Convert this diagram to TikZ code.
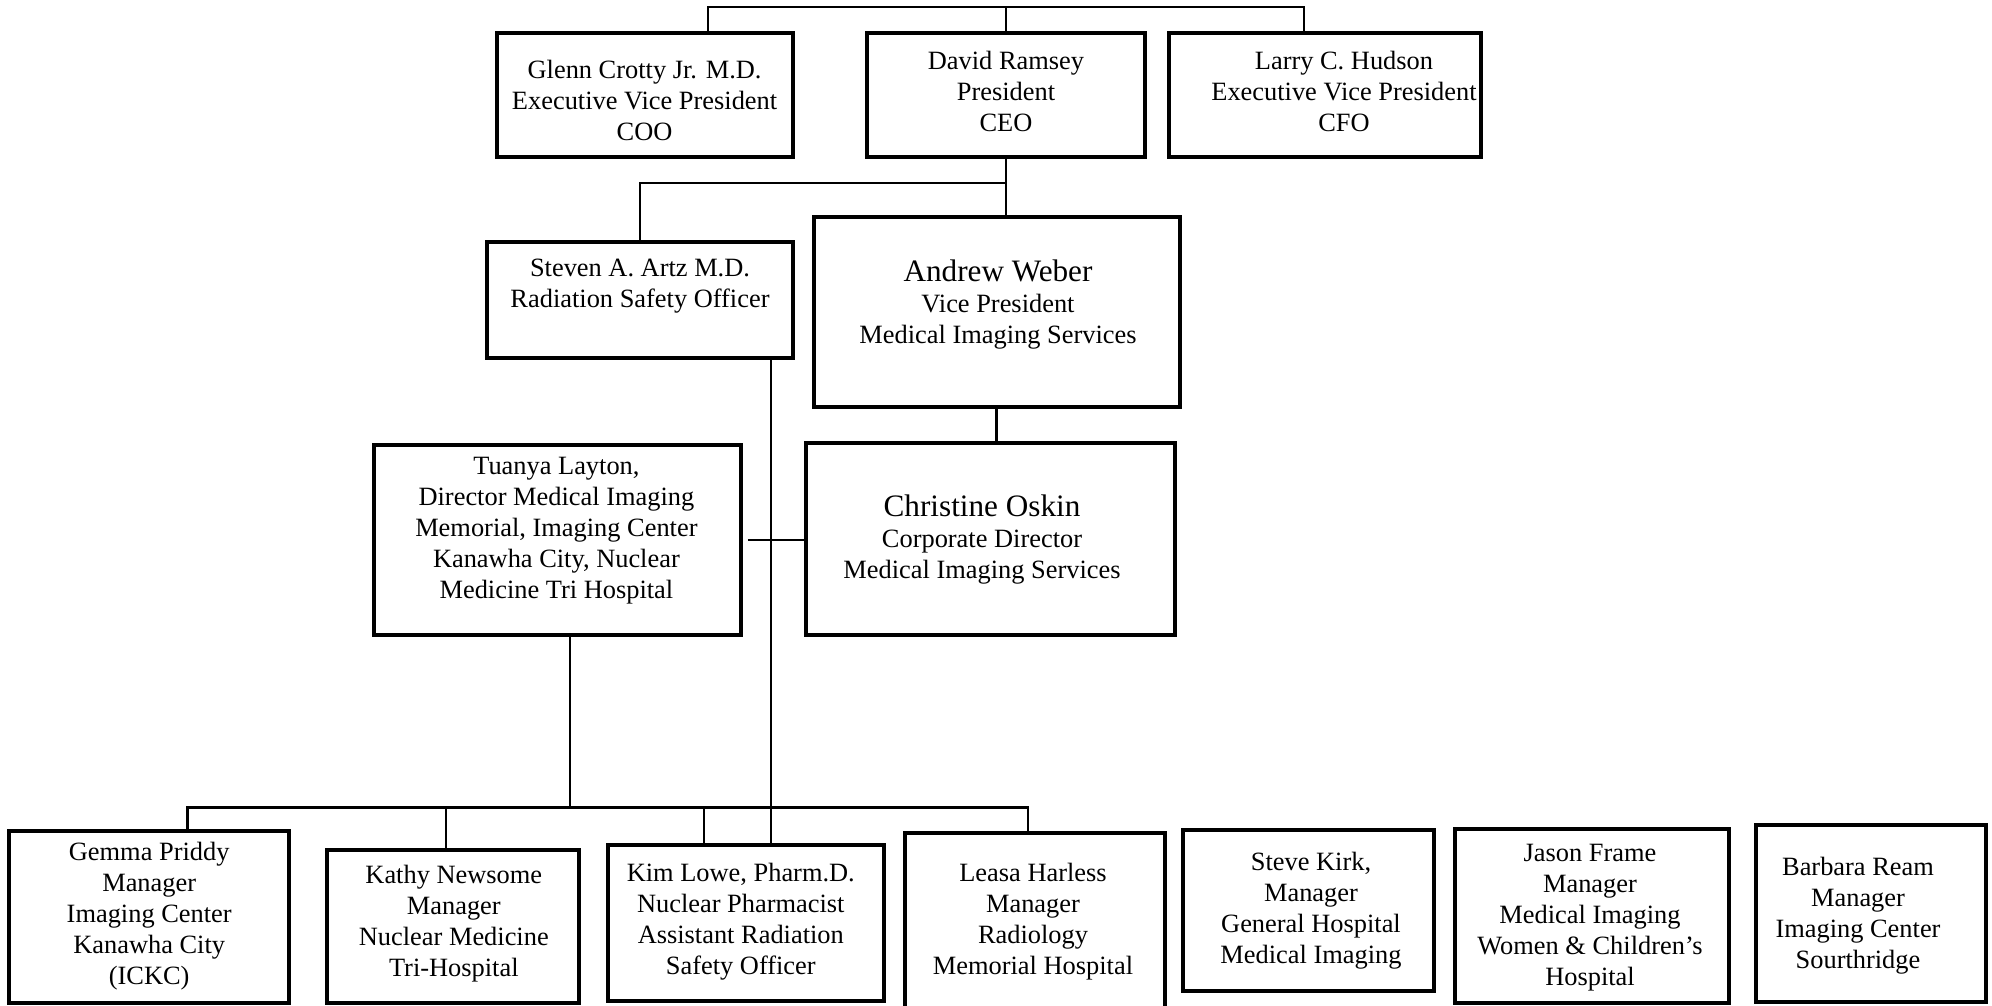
\documentclass[tikz,border=0pt]{standalone}
\usepackage{fontspec}
\setmainfont{Liberation Serif}
\tikzset{
  box/.style={draw=black, line width=2pt, rectangle, inner sep=0pt, outer sep=0pt},
  conn/.style={draw=black, line width=1.1pt},
  txt/.style={align=center, font=\fontsize{13.2pt}{15.5pt}\selectfont, inner sep=0pt},
}
\newcommand\bigname[1]{{\fontsize{15.6pt}{17pt}\selectfont #1}}
\begin{document}
\begin{tikzpicture}[x=0.5pt,y=-0.5pt]
\useasboundingbox (0,0) rectangle (1992,1006);
\clip (0,0) rectangle (1992,1006);
% boxes
\node[box, minimum width=148.1pt, minimum height=62pt]   (glenn)   at (644.6,95.3) {};
\node[box, minimum width=139.4pt, minimum height=62pt]   (david)   at (1006,95.2) {};
\node[box, minimum width=155.9pt, minimum height=61.7pt] (larry)   at (1325.2,95) {};
\node[box, minimum width=153pt,   minimum height=58.3pt] (artz)    at (639.7,300) {};
\node[box, minimum width=183pt,   minimum height=95.3pt] (weber)   at (996.5,312) {};
\node[box, minimum width=183.7pt, minimum height=94.8pt] (tuanya)  at (557.2,540.2) {};
\node[box, minimum width=184.4pt, minimum height=95.9pt] (oskin)   at (990.3,539) {};
\node[box, minimum width=140pt,   minimum height=86pt]   (gemma)   at (149.3,917) {};
\node[box, minimum width=126.3pt, minimum height=76.7pt] (kathy)   at (453,926.4) {};
\node[box, minimum width=137.8pt, minimum height=78pt]   (kim)     at (746.2,923) {};
\node[box, minimum width=130.1pt, minimum height=89.5pt] (leasa)   at (1034.7,922.5) {};
\node[box, minimum width=125.2pt, minimum height=80.4pt] (steve)   at (1308.5,910.4) {};
\node[box, minimum width=137.3pt, minimum height=86.9pt] (jason)   at (1591.8,916.2) {};
\node[box, minimum width=115.1pt, minimum height=88.5pt] (barbara) at (1870.9,913.5) {};
% texts
\node[txt] (glennT) at (644.6,100) {Glenn Crotty Jr. M.D.\\Executive Vice President\\COO};
\node[txt] (davidT) at (1006,91) {David Ramsey\\President\\CEO};
\node[txt] (larryT) at (1344,91) {Larry C. Hudson\\Executive Vice President\\CFO};
\node[txt] (artzT) at (640,286) {Steven A. Artz M.D.\\Radiation Safety Officer};
\node[txt] (weberT) at (998,304.6) {\bigname{Andrew Weber}\\Vice President\\Medical Imaging Services};
\node[txt] (oskinT) at (982,539.6) {\bigname{Christine Oskin}\\Corporate Director\\Medical Imaging Services};
\node[txt] (tuanyaT) at (556.4,531) {Tuanya Layton,\\Director Medical Imaging\\Memorial, Imaging Center\\Kanawha City, Nuclear\\Medicine Tri Hospital};
\node[txt] (gemmaT) at (149.2,916.6) {Gemma Priddy\\Manager\\Imaging Center\\Kanawha City\\(ICKC)};
\node[txt] (kathyT) at (453.8,923.7) {Kathy Newsome\\Manager\\Nuclear Medicine\\Tri-Hospital};
\node[txt] (kimT) at (740.8,922) {Kim Lowe, Pharm.D.\\Nuclear Pharmacist\\Assistant Radiation\\Safety Officer};
\node[txt] (leasaT) at (1033,922) {Leasa Harless\\Manager\\Radiology\\Memorial Hospital};
\node[txt] (steveT) at (1311,910.4) {Steve Kirk,\\Manager\\General Hospital\\Medical Imaging};
\node[txt] (jasonT) at (1590,917.7) {Jason Frame\\Manager\\Medical Imaging\\Women \& Children’s\\Hospital};
\node[txt] (barbaraT) at (1858,915.8) {Barbara Ream\\Manager\\Imaging Center\\Sourthridge};
% connector helper coordinates
\coordinate (tl) at (707.6,7.3);
\coordinate (tr) at (1304,7.3);
\coordinate (br) at (1005.5,182.7);
\coordinate (av) at (771,0);
\coordinate (tv) at (570,0);
\coordinate (d1) at (187.5,807.5);
\coordinate (d2) at (446.2,807.5);
\coordinate (d3) at (704,807.5);
\coordinate (d4) at (1027.8,807.5);
% connectors
\draw[conn] (tl |- glenn.north) -- (tl) -- (tr) -- (tr |- larry.north);
\draw[conn] (david.north) -- (david.north |- tl);
\draw[conn] (david.south) -- (david.south |- weber.north);
\draw[conn] (david.south |- br) -| (artz.north);
\draw[conn] (weber.south) -- (weber.south |- oskin.north);
\draw[conn] (artz.south -| av) -- (kim.north -| av);
\draw[conn] ([xshift=3.5pt]tuanya.east) -- (tuanya.east -| oskin.west);
\draw[conn] (tuanya.south -| tv) -- (tv |- d1);
\draw[conn] (d1 |- gemma.north) -- (d1) -- (d4) -- (d4 |- leasa.north);
\draw[conn] (d2) -- (d2 |- kathy.north);
\draw[conn] (d3) -- (d3 |- kim.north);
\end{tikzpicture}
\end{document}
